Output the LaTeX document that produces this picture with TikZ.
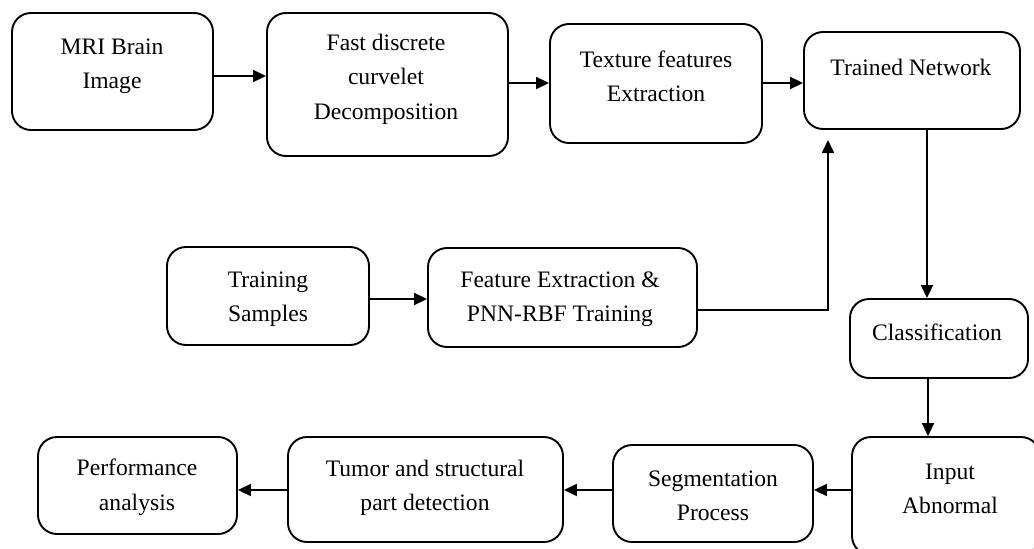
\documentclass[tikz,border=0pt]{standalone}
\usepackage{fontspec}
\setmainfont{Liberation Serif}
\usetikzlibrary{arrows.meta}
\begin{document}
\begin{tikzpicture}[x=1pt,y=-1pt,
  box/.style={draw=black, line width=1.9pt, rounded corners=19pt, inner sep=0pt},
  txt/.style={align=center, inner sep=0pt, font=\fontsize{23.6}{34.5}\selectfont},
  arr/.style={line width=1.9pt, -{Triangle[length=13pt,width=12pt]}},
  ln/.style={line width=1.9pt}]
\useasboundingbox (0,0) rectangle (1034,549);
% boxes
\node[box, minimum width=201pt, minimum height=117pt] (mri)  at (112.5,71.5) {};
\node[box, minimum width=241pt, minimum height=143pt] (fast) at (387.5,84.5) {};
\node[box, minimum width=212pt, minimum height=119pt] (tex)  at (656,83.5) {};
\node[box, minimum width=216pt, minimum height=97pt]  (trn)  at (912,80.5) {};
\node[box, minimum width=202pt, minimum height=98pt]  (samp) at (268,296) {};
\node[box, minimum width=269pt, minimum height=99pt]  (feat) at (562.5,297.5) {};
\node[box, minimum width=178pt, minimum height=79pt]  (cls)  at (939,338.5) {};
\node[box, minimum width=188pt, minimum height=118pt] (inp)  at (946,496) {};
\node[box, minimum width=200pt, minimum height=97pt]  (seg)  at (713,493.5) {};
\node[box, minimum width=275pt, minimum height=105pt] (tum)  at (425.5,489.5) {};
\node[box, minimum width=199pt, minimum height=97pt]  (perf) at (137.5,485.5) {};
% texts
\node[txt] (mriT)  at (112,66)  {MRI Brain\\Image};
\node[txt] (fastT) at (386,79)  {Fast discrete\\curvelet\\Decomposition};
\node[txt] (texT)  at (656,76.5)  {Texture features\\Extraction};
\node[txt] (trnT)  at (911,67)  {Trained Network};
\node[txt] (sampT) at (268,299) {Training\\Samples};
\node[txt] (featT) at (560,299) {Feature Extraction \&\\PNN-RBF Training};
\node[txt] (clsT)  at (937,332) {Classification};
\node[txt] (inpT)  at (950,489) {Input\\Abnormal};
\node[txt] (segT)  at (713,496) {Segmentation\\Process};
\node[txt] (tumT)  at (425,488) {Tumor and structural\\part detection};
\node[txt] (perfT) at (137,487) {Performance\\analysis};
% connectors
\coordinate (upEnd) at (828,140);
\draw[arr] (mri.east |- 0,76) -- (fast.west |- 0,76);
\draw[arr] (fast.east |- 0,83) -- (tex.west |- 0,83);
\draw[arr] (tex.east |- 0,83) -- (trn.west |- 0,83);
\draw[arr] (trn.south -| 927,0) -- (cls.north -| 927,0);
\draw[arr] (samp.east |- 0,299) -- (feat.west |- 0,299);
\draw[arr] (feat.east |- 0,310) -| (upEnd);
\draw[arr] (cls.south -| 928,0) -- (inp.north -| 928,0);
\draw[arr] (inp.west |- 0,490) -- (seg.east |- 0,490);
\draw[arr] (seg.west |- 0,490) -- (tum.east |- 0,490);
\draw[arr] (tum.west |- 0,490) -- (perf.east |- 0,490);
\end{tikzpicture}
\end{document}
